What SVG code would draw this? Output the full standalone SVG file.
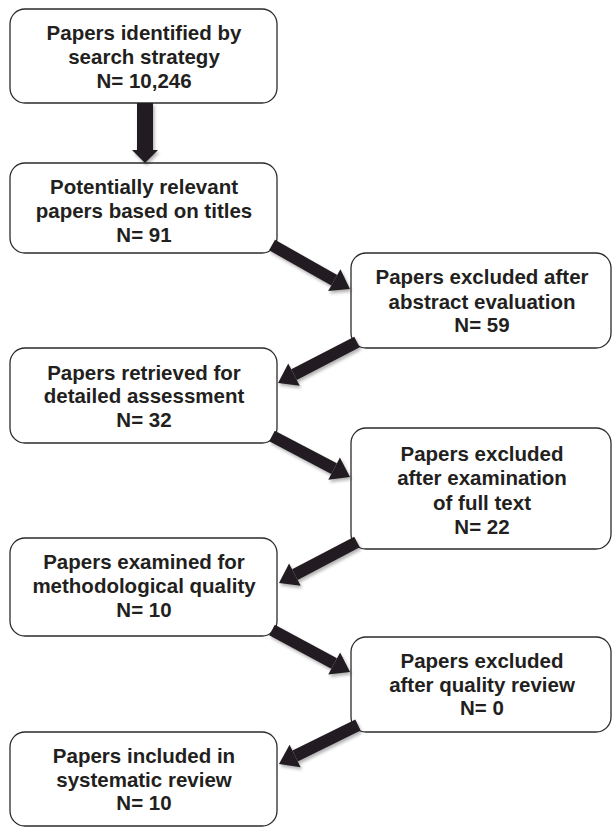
<svg xmlns="http://www.w3.org/2000/svg" width="612" height="827" viewBox="0 0 612 827">
<style>
.box{fill:#ffffff;stroke:#2b2b2b;stroke-width:1.3}
.t{font-family:"Liberation Sans",Arial,Helvetica,sans-serif;font-weight:bold;font-size:20.5px;fill:#231f20;text-anchor:middle}
.shaft{stroke:#231f20;stroke-width:12;fill:none}
</style>
<defs>
<marker id="head" markerUnits="userSpaceOnUse" viewBox="0 -13 20 26" markerWidth="20" markerHeight="26" refX="0" refY="0" orient="auto" overflow="visible">
<path d="M0,-12.5 L18,0 L0,12.5 Z" fill="#231f20"/>
</marker>
<filter id="sh" x="-20%" y="-20%" width="140%" height="140%">
<feDropShadow dx="1.5" dy="2.5" stdDeviation="1.5" flood-color="#000" flood-opacity="0.3"/>
</filter>
</defs>
<rect width="612" height="827" fill="#ffffff"/>
<g id="n1"><rect class="box" x="10" y="9" width="267" height="94" rx="15"/>
<text class="t" x="144" y="40">Papers identified by</text><text class="t" x="144" y="64">search strategy</text><text class="t" x="144" y="88">N= 10,246</text></g>
<g id="n2"><rect class="box" x="10" y="163" width="267" height="90" rx="15"/>
<text class="t" x="144" y="194">Potentially relevant</text><text class="t" x="144" y="218">papers based on titles</text><text class="t" x="144" y="242">N= 91</text></g>
<g id="n3"><rect class="box" x="351" y="253" width="260" height="95" rx="15"/>
<text class="t" x="482" y="284">Papers excluded after</text><text class="t" x="482" y="309">abstract evaluation</text><text class="t" x="482" y="332">N= 59</text></g>
<g id="n4"><rect class="box" x="10" y="348" width="267" height="95" rx="15"/>
<text class="t" x="144" y="380">Papers retrieved for</text><text class="t" x="144" y="403">detailed assessment</text><text class="t" x="144" y="427">N= 32</text></g>
<g id="n5"><rect class="box" x="351" y="428" width="260" height="121" rx="15"/>
<text class="t" x="482" y="461">Papers excluded</text><text class="t" x="482" y="485">after examination</text><text class="t" x="482" y="510">of full text</text><text class="t" x="482" y="534">N= 22</text></g>
<g id="n6"><rect class="box" x="10" y="538" width="267" height="98" rx="15"/>
<text class="t" x="144" y="569">Papers examined for</text><text class="t" x="144" y="593">methodological quality</text><text class="t" x="144" y="617">N= 10</text></g>
<g id="n7"><rect class="box" x="351" y="637" width="260" height="95" rx="15"/>
<text class="t" x="482" y="668">Papers excluded</text><text class="t" x="482" y="692">after quality review</text><text class="t" x="482" y="715">N= 0</text></g>
<g id="n8"><rect class="box" x="10" y="732" width="267" height="94" rx="15"/>
<text class="t" x="144" y="763">Papers included in</text><text class="t" x="144" y="787">systematic review</text><text class="t" x="144" y="810">N= 10</text></g>
<g id="connectors" filter="url(#sh)">
<polygon points="137,103 153,103 153,150 158,150 145,163 132,150 137,150" fill="#231f20"/>
<line class="shaft" x1="272" y1="245" x2="334.3" y2="280.2" marker-end="url(#head)"/>
<line class="shaft" x1="357" y1="342" x2="294" y2="374.7" marker-end="url(#head)"/>
<line class="shaft" x1="272" y1="436" x2="334.1" y2="468.6" marker-end="url(#head)"/>
<line class="shaft" x1="357" y1="542" x2="294.9" y2="574.6" marker-end="url(#head)"/>
<line class="shaft" x1="272" y1="630" x2="334.2" y2="663.5" marker-end="url(#head)"/>
<line class="shaft" x1="358" y1="725" x2="295.1" y2="756" marker-end="url(#head)"/>
</g>
</svg>
